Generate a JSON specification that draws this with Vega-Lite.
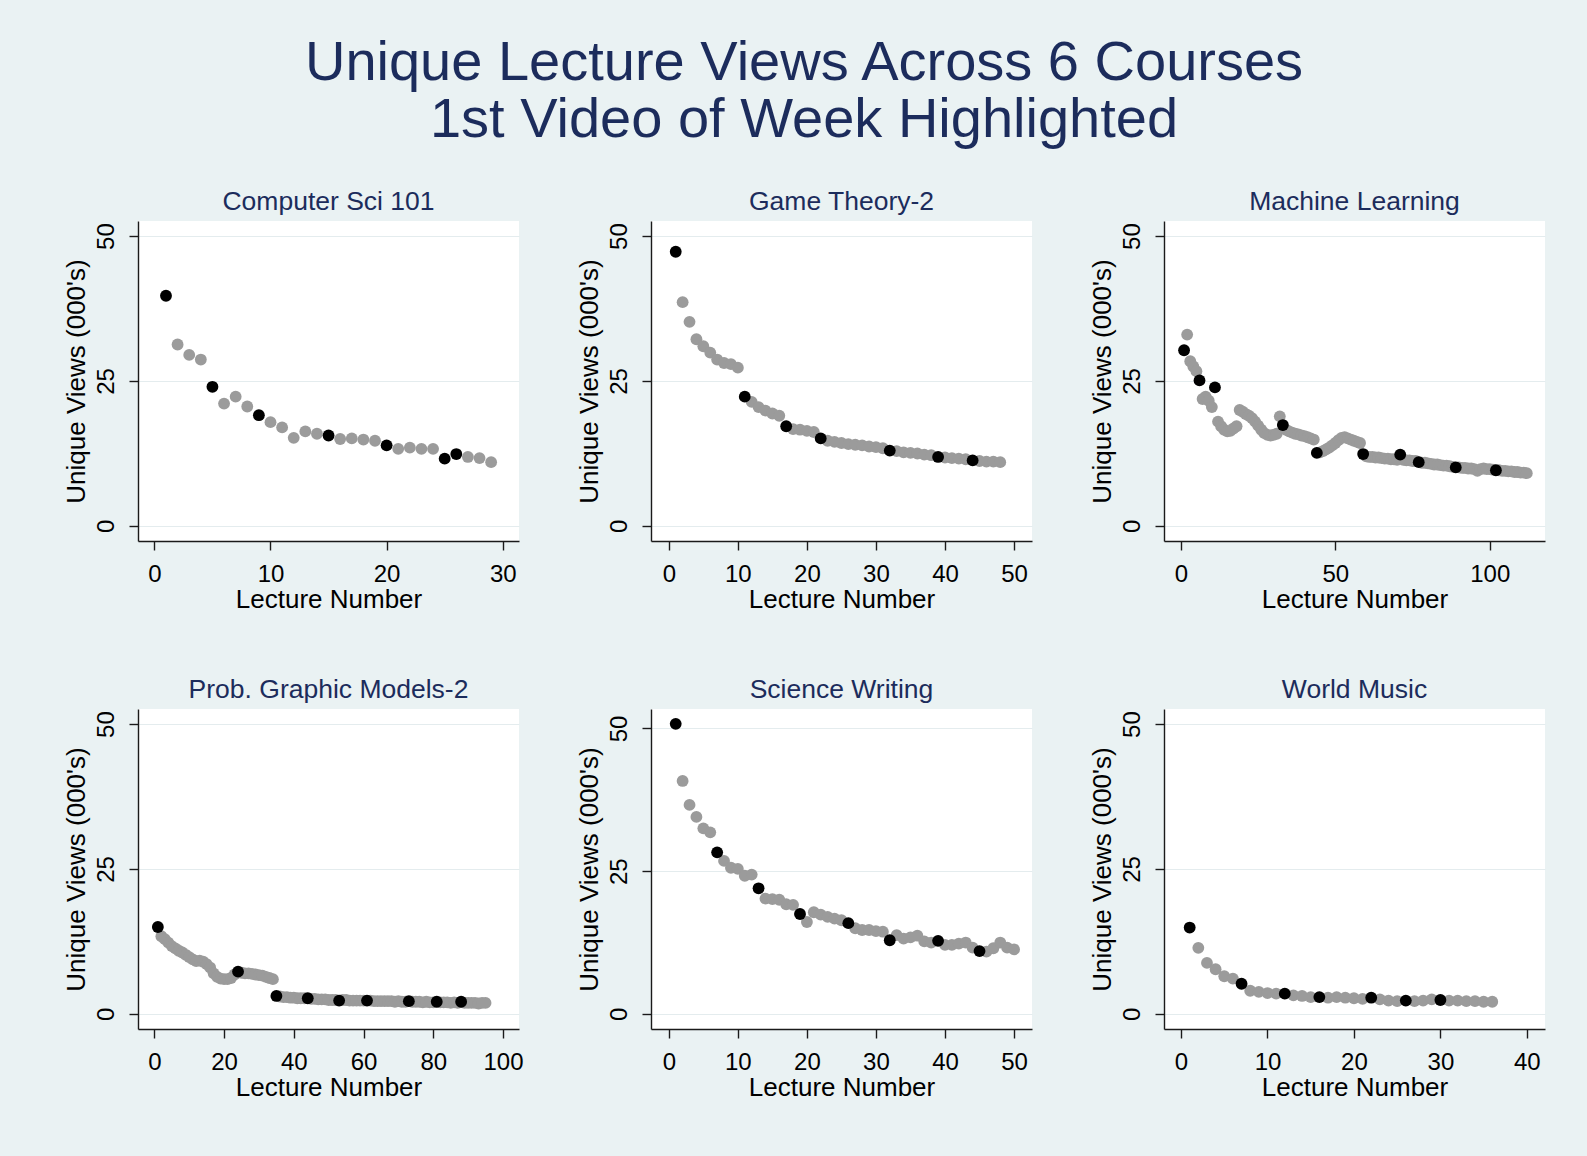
{
  "$schema": "https://vega.github.io/schema/vega-lite/v6.json",
  "background": "#EAF2F3",
  "padding": {"left": 63, "top": 34, "right": 49, "bottom": 59},
  "title": {
    "text": ["Unique Lecture Views Across 6 Courses", "1st Video of Week Highlighted"],
    "fontSize": 56, "font": "Liberation Sans", "fontWeight": "normal", "color": "#1C2C5C",
    "lineHeight": 57, "anchor": "middle", "offset": 40
  },
  "datasets": {
    "cs": [
      {"lecture":1,"views":39.7,"first":"Yes"},{"lecture":2,"views":31.3,"first":"No"},{"lecture":3,"views":29.5,"first":"No"},{"lecture":4,"views":28.7,"first":"No"},{"lecture":5,"views":24.0,"first":"Yes"},{"lecture":6,"views":21.1,"first":"No"},{"lecture":7,"views":22.3,"first":"No"},{"lecture":8,"views":20.6,"first":"No"},{"lecture":9,"views":19.1,"first":"Yes"},{"lecture":10,"views":17.9,"first":"No"},{"lecture":11,"views":17.0,"first":"No"},{"lecture":12,"views":15.2,"first":"No"},{"lecture":13,"views":16.3,"first":"No"},{"lecture":14,"views":15.9,"first":"No"},{"lecture":15,"views":15.6,"first":"Yes"},{"lecture":16,"views":15.0,"first":"No"},{"lecture":17,"views":15.1,"first":"No"},{"lecture":18,"views":14.9,"first":"No"},{"lecture":19,"views":14.7,"first":"No"},{"lecture":20,"views":13.9,"first":"Yes"},{"lecture":21,"views":13.3,"first":"No"},{"lecture":22,"views":13.5,"first":"No"},{"lecture":23,"views":13.3,"first":"No"},{"lecture":24,"views":13.3,"first":"No"},{"lecture":25,"views":11.6,"first":"Yes"},{"lecture":26,"views":12.4,"first":"Yes"},{"lecture":27,"views":11.9,"first":"No"},{"lecture":28,"views":11.7,"first":"No"},{"lecture":29,"views":11.0,"first":"No"}
    ],
    "gt": [
      {"lecture":1,"views":47.3,"first":"Yes"},{"lecture":2,"views":38.6,"first":"No"},{"lecture":3,"views":35.2,"first":"No"},{"lecture":4,"views":32.2,"first":"No"},{"lecture":5,"views":31.0,"first":"No"},{"lecture":6,"views":29.9,"first":"No"},{"lecture":7,"views":28.7,"first":"No"},{"lecture":8,"views":28.1,"first":"No"},{"lecture":9,"views":27.9,"first":"No"},{"lecture":10,"views":27.3,"first":"No"},{"lecture":11,"views":22.3,"first":"Yes"},{"lecture":12,"views":21.4,"first":"No"},{"lecture":13,"views":20.5,"first":"No"},{"lecture":14,"views":19.9,"first":"No"},{"lecture":15,"views":19.4,"first":"No"},{"lecture":16,"views":19.0,"first":"No"},{"lecture":17,"views":17.2,"first":"Yes"},{"lecture":18,"views":16.7,"first":"No"},{"lecture":19,"views":16.6,"first":"No"},{"lecture":20,"views":16.4,"first":"No"},{"lecture":21,"views":16.2,"first":"No"},{"lecture":22,"views":15.1,"first":"Yes"},{"lecture":23,"views":14.7,"first":"No"},{"lecture":24,"views":14.5,"first":"No"},{"lecture":25,"views":14.3,"first":"No"},{"lecture":26,"views":14.1,"first":"No"},{"lecture":27,"views":14.0,"first":"No"},{"lecture":28,"views":13.9,"first":"No"},{"lecture":29,"views":13.7,"first":"No"},{"lecture":30,"views":13.6,"first":"No"},{"lecture":31,"views":13.4,"first":"No"},{"lecture":32,"views":13.0,"first":"Yes"},{"lecture":33,"views":12.9,"first":"No"},{"lecture":34,"views":12.7,"first":"No"},{"lecture":35,"views":12.6,"first":"No"},{"lecture":36,"views":12.5,"first":"No"},{"lecture":37,"views":12.3,"first":"No"},{"lecture":38,"views":12.2,"first":"No"},{"lecture":39,"views":11.9,"first":"Yes"},{"lecture":40,"views":11.8,"first":"No"},{"lecture":41,"views":11.7,"first":"No"},{"lecture":42,"views":11.6,"first":"No"},{"lecture":43,"views":11.5,"first":"No"},{"lecture":44,"views":11.3,"first":"Yes"},{"lecture":45,"views":11.2,"first":"No"},{"lecture":46,"views":11.1,"first":"No"},{"lecture":47,"views":11.1,"first":"No"},{"lecture":48,"views":11.0,"first":"No"}
    ],
    "ml": [
      {"lecture":1,"views":30.3,"first":"Yes"},{"lecture":2,"views":33.0,"first":"No"},{"lecture":3,"views":28.4,"first":"No"},{"lecture":4,"views":27.5,"first":"No"},{"lecture":5,"views":26.7,"first":"No"},{"lecture":6,"views":25.1,"first":"Yes"},{"lecture":7,"views":21.9,"first":"No"},{"lecture":8,"views":22.3,"first":"No"},{"lecture":9,"views":21.6,"first":"No"},{"lecture":10,"views":20.5,"first":"No"},{"lecture":11,"views":23.9,"first":"Yes"},{"lecture":12,"views":18.0,"first":"No"},{"lecture":13,"views":17.2,"first":"No"},{"lecture":14,"views":16.6,"first":"No"},{"lecture":15,"views":16.3,"first":"No"},{"lecture":16,"views":16.4,"first":"No"},{"lecture":17,"views":16.8,"first":"No"},{"lecture":18,"views":17.2,"first":"No"},{"lecture":19,"views":20.0,"first":"No"},{"lecture":20,"views":19.7,"first":"No"},{"lecture":21,"views":19.3,"first":"No"},{"lecture":22,"views":19.0,"first":"No"},{"lecture":23,"views":18.6,"first":"No"},{"lecture":24,"views":18.0,"first":"No"},{"lecture":25,"views":17.3,"first":"No"},{"lecture":26,"views":16.6,"first":"No"},{"lecture":27,"views":16.0,"first":"No"},{"lecture":28,"views":15.7,"first":"No"},{"lecture":29,"views":15.6,"first":"No"},{"lecture":30,"views":15.7,"first":"No"},{"lecture":31,"views":15.9,"first":"No"},{"lecture":32,"views":18.9,"first":"No"},{"lecture":33,"views":17.4,"first":"Yes"},{"lecture":34,"views":16.6,"first":"No"},{"lecture":35,"views":16.3,"first":"No"},{"lecture":36,"views":16.1,"first":"No"},{"lecture":37,"views":15.9,"first":"No"},{"lecture":38,"views":15.8,"first":"No"},{"lecture":39,"views":15.6,"first":"No"},{"lecture":40,"views":15.5,"first":"No"},{"lecture":41,"views":15.3,"first":"No"},{"lecture":42,"views":15.1,"first":"No"},{"lecture":43,"views":14.9,"first":"No"},{"lecture":44,"views":12.6,"first":"Yes"},{"lecture":45,"views":12.7,"first":"No"},{"lecture":46,"views":12.9,"first":"No"},{"lecture":47,"views":13.2,"first":"No"},{"lecture":48,"views":13.5,"first":"No"},{"lecture":49,"views":13.9,"first":"No"},{"lecture":50,"views":14.3,"first":"No"},{"lecture":51,"views":14.8,"first":"No"},{"lecture":52,"views":15.2,"first":"No"},{"lecture":53,"views":15.3,"first":"No"},{"lecture":54,"views":15.1,"first":"No"},{"lecture":55,"views":14.9,"first":"No"},{"lecture":56,"views":14.7,"first":"No"},{"lecture":57,"views":14.5,"first":"No"},{"lecture":58,"views":14.3,"first":"No"},{"lecture":59,"views":12.4,"first":"Yes"},{"lecture":60,"views":12.0,"first":"No"},{"lecture":61,"views":11.9,"first":"No"},{"lecture":62,"views":11.9,"first":"No"},{"lecture":63,"views":11.8,"first":"No"},{"lecture":64,"views":11.8,"first":"No"},{"lecture":65,"views":11.7,"first":"No"},{"lecture":66,"views":11.6,"first":"No"},{"lecture":67,"views":11.6,"first":"No"},{"lecture":68,"views":11.5,"first":"No"},{"lecture":69,"views":11.5,"first":"No"},{"lecture":70,"views":11.4,"first":"No"},{"lecture":71,"views":12.3,"first":"Yes"},{"lecture":72,"views":11.4,"first":"No"},{"lecture":73,"views":11.3,"first":"No"},{"lecture":74,"views":11.3,"first":"No"},{"lecture":75,"views":11.2,"first":"No"},{"lecture":76,"views":11.2,"first":"No"},{"lecture":77,"views":11.0,"first":"Yes"},{"lecture":78,"views":10.9,"first":"No"},{"lecture":79,"views":10.9,"first":"No"},{"lecture":80,"views":10.8,"first":"No"},{"lecture":81,"views":10.7,"first":"No"},{"lecture":82,"views":10.6,"first":"No"},{"lecture":83,"views":10.6,"first":"No"},{"lecture":84,"views":10.5,"first":"No"},{"lecture":85,"views":10.4,"first":"No"},{"lecture":86,"views":10.4,"first":"No"},{"lecture":87,"views":10.3,"first":"No"},{"lecture":88,"views":10.2,"first":"No"},{"lecture":89,"views":10.1,"first":"Yes"},{"lecture":90,"views":10.1,"first":"No"},{"lecture":91,"views":10.0,"first":"No"},{"lecture":92,"views":10.0,"first":"No"},{"lecture":93,"views":9.9,"first":"No"},{"lecture":94,"views":9.9,"first":"No"},{"lecture":95,"views":9.8,"first":"No"},{"lecture":96,"views":9.5,"first":"No"},{"lecture":97,"views":9.8,"first":"No"},{"lecture":98,"views":9.9,"first":"No"},{"lecture":99,"views":9.8,"first":"No"},{"lecture":100,"views":9.8,"first":"No"},{"lecture":101,"views":9.7,"first":"No"},{"lecture":102,"views":9.6,"first":"Yes"},{"lecture":103,"views":9.6,"first":"No"},{"lecture":104,"views":9.5,"first":"No"},{"lecture":105,"views":9.5,"first":"No"},{"lecture":106,"views":9.4,"first":"No"},{"lecture":107,"views":9.4,"first":"No"},{"lecture":108,"views":9.3,"first":"No"},{"lecture":109,"views":9.3,"first":"No"},{"lecture":110,"views":9.2,"first":"No"},{"lecture":111,"views":9.2,"first":"No"},{"lecture":112,"views":9.1,"first":"No"}
    ],
    "pgm": [
      {"lecture":1,"views":15.0,"first":"Yes"},{"lecture":2,"views":13.4,"first":"No"},{"lecture":3,"views":12.9,"first":"No"},{"lecture":4,"views":12.3,"first":"No"},{"lecture":5,"views":11.7,"first":"No"},{"lecture":6,"views":11.3,"first":"No"},{"lecture":7,"views":10.9,"first":"No"},{"lecture":8,"views":10.6,"first":"No"},{"lecture":9,"views":10.2,"first":"No"},{"lecture":10,"views":9.8,"first":"No"},{"lecture":11,"views":9.4,"first":"No"},{"lecture":12,"views":9.1,"first":"No"},{"lecture":13,"views":9.2,"first":"No"},{"lecture":14,"views":9.0,"first":"No"},{"lecture":15,"views":8.6,"first":"No"},{"lecture":16,"views":8.0,"first":"No"},{"lecture":17,"views":7.0,"first":"No"},{"lecture":18,"views":6.4,"first":"No"},{"lecture":19,"views":6.1,"first":"No"},{"lecture":20,"views":6.0,"first":"No"},{"lecture":21,"views":6.0,"first":"No"},{"lecture":22,"views":6.2,"first":"No"},{"lecture":23,"views":6.8,"first":"No"},{"lecture":24,"views":7.3,"first":"Yes"},{"lecture":25,"views":7.1,"first":"No"},{"lecture":26,"views":7.0,"first":"No"},{"lecture":27,"views":7.0,"first":"No"},{"lecture":28,"views":6.9,"first":"No"},{"lecture":29,"views":6.8,"first":"No"},{"lecture":30,"views":6.7,"first":"No"},{"lecture":31,"views":6.6,"first":"No"},{"lecture":32,"views":6.4,"first":"No"},{"lecture":33,"views":6.2,"first":"No"},{"lecture":34,"views":6.0,"first":"No"},{"lecture":35,"views":3.1,"first":"Yes"},{"lecture":36,"views":3.0,"first":"No"},{"lecture":37,"views":2.9,"first":"No"},{"lecture":38,"views":2.9,"first":"No"},{"lecture":39,"views":2.8,"first":"No"},{"lecture":40,"views":2.8,"first":"No"},{"lecture":41,"views":2.7,"first":"No"},{"lecture":42,"views":2.7,"first":"No"},{"lecture":43,"views":2.7,"first":"No"},{"lecture":44,"views":2.7,"first":"Yes"},{"lecture":45,"views":2.6,"first":"No"},{"lecture":46,"views":2.6,"first":"No"},{"lecture":47,"views":2.5,"first":"No"},{"lecture":48,"views":2.5,"first":"No"},{"lecture":49,"views":2.5,"first":"No"},{"lecture":50,"views":2.4,"first":"No"},{"lecture":51,"views":2.4,"first":"No"},{"lecture":52,"views":2.4,"first":"No"},{"lecture":53,"views":2.3,"first":"Yes"},{"lecture":54,"views":2.4,"first":"No"},{"lecture":55,"views":2.4,"first":"No"},{"lecture":56,"views":2.3,"first":"No"},{"lecture":57,"views":2.3,"first":"No"},{"lecture":58,"views":2.3,"first":"No"},{"lecture":59,"views":2.3,"first":"No"},{"lecture":60,"views":2.3,"first":"No"},{"lecture":61,"views":2.3,"first":"Yes"},{"lecture":62,"views":2.3,"first":"No"},{"lecture":63,"views":2.2,"first":"No"},{"lecture":64,"views":2.2,"first":"No"},{"lecture":65,"views":2.2,"first":"No"},{"lecture":66,"views":2.2,"first":"No"},{"lecture":67,"views":2.2,"first":"No"},{"lecture":68,"views":2.2,"first":"No"},{"lecture":69,"views":2.1,"first":"No"},{"lecture":70,"views":2.2,"first":"No"},{"lecture":71,"views":2.1,"first":"No"},{"lecture":72,"views":2.1,"first":"No"},{"lecture":73,"views":2.2,"first":"Yes"},{"lecture":74,"views":2.1,"first":"No"},{"lecture":75,"views":2.1,"first":"No"},{"lecture":76,"views":2.1,"first":"No"},{"lecture":77,"views":2.0,"first":"No"},{"lecture":78,"views":2.1,"first":"No"},{"lecture":79,"views":2.0,"first":"No"},{"lecture":80,"views":2.0,"first":"No"},{"lecture":81,"views":2.1,"first":"Yes"},{"lecture":82,"views":2.0,"first":"No"},{"lecture":83,"views":2.0,"first":"No"},{"lecture":84,"views":2.0,"first":"No"},{"lecture":85,"views":1.9,"first":"No"},{"lecture":86,"views":2.0,"first":"No"},{"lecture":87,"views":1.9,"first":"No"},{"lecture":88,"views":2.1,"first":"Yes"},{"lecture":89,"views":1.9,"first":"No"},{"lecture":90,"views":1.9,"first":"No"},{"lecture":91,"views":1.9,"first":"No"},{"lecture":92,"views":1.9,"first":"No"},{"lecture":93,"views":1.8,"first":"No"},{"lecture":94,"views":1.9,"first":"No"},{"lecture":95,"views":1.9,"first":"No"}
    ],
    "sw": [
      {"lecture":1,"views":50.8,"first":"Yes"},{"lecture":2,"views":40.8,"first":"No"},{"lecture":3,"views":36.6,"first":"No"},{"lecture":4,"views":34.5,"first":"No"},{"lecture":5,"views":32.5,"first":"No"},{"lecture":6,"views":31.8,"first":"No"},{"lecture":7,"views":28.3,"first":"Yes"},{"lecture":8,"views":26.8,"first":"No"},{"lecture":9,"views":25.6,"first":"No"},{"lecture":10,"views":25.4,"first":"No"},{"lecture":11,"views":24.2,"first":"No"},{"lecture":12,"views":24.4,"first":"No"},{"lecture":13,"views":22.0,"first":"Yes"},{"lecture":14,"views":20.2,"first":"No"},{"lecture":15,"views":20.1,"first":"No"},{"lecture":16,"views":20.0,"first":"No"},{"lecture":17,"views":19.2,"first":"No"},{"lecture":18,"views":19.1,"first":"No"},{"lecture":19,"views":17.5,"first":"Yes"},{"lecture":20,"views":16.1,"first":"No"},{"lecture":21,"views":17.8,"first":"No"},{"lecture":22,"views":17.4,"first":"No"},{"lecture":23,"views":17.0,"first":"No"},{"lecture":24,"views":16.7,"first":"No"},{"lecture":25,"views":16.4,"first":"No"},{"lecture":26,"views":15.9,"first":"Yes"},{"lecture":27,"views":15.0,"first":"No"},{"lecture":28,"views":14.7,"first":"No"},{"lecture":29,"views":14.7,"first":"No"},{"lecture":30,"views":14.5,"first":"No"},{"lecture":31,"views":14.4,"first":"No"},{"lecture":32,"views":12.9,"first":"Yes"},{"lecture":33,"views":13.8,"first":"No"},{"lecture":34,"views":13.2,"first":"No"},{"lecture":35,"views":13.4,"first":"No"},{"lecture":36,"views":13.7,"first":"No"},{"lecture":37,"views":12.7,"first":"No"},{"lecture":38,"views":12.5,"first":"No"},{"lecture":39,"views":12.8,"first":"Yes"},{"lecture":40,"views":12.1,"first":"No"},{"lecture":41,"views":12.1,"first":"No"},{"lecture":42,"views":12.3,"first":"No"},{"lecture":43,"views":12.5,"first":"No"},{"lecture":44,"views":11.6,"first":"No"},{"lecture":45,"views":11.0,"first":"Yes"},{"lecture":46,"views":10.9,"first":"No"},{"lecture":47,"views":11.5,"first":"No"},{"lecture":48,"views":12.5,"first":"No"},{"lecture":49,"views":11.6,"first":"No"},{"lecture":50,"views":11.3,"first":"No"}
    ],
    "wm": [
      {"lecture":1,"views":14.9,"first":"Yes"},{"lecture":2,"views":11.4,"first":"No"},{"lecture":3,"views":8.8,"first":"No"},{"lecture":4,"views":7.7,"first":"No"},{"lecture":5,"views":6.5,"first":"No"},{"lecture":6,"views":6.1,"first":"No"},{"lecture":7,"views":5.2,"first":"Yes"},{"lecture":8,"views":4.0,"first":"No"},{"lecture":9,"views":3.8,"first":"No"},{"lecture":10,"views":3.6,"first":"No"},{"lecture":11,"views":3.5,"first":"No"},{"lecture":12,"views":3.5,"first":"Yes"},{"lecture":13,"views":3.2,"first":"No"},{"lecture":14,"views":3.1,"first":"No"},{"lecture":15,"views":2.9,"first":"No"},{"lecture":16,"views":2.9,"first":"Yes"},{"lecture":17,"views":2.8,"first":"No"},{"lecture":18,"views":2.9,"first":"No"},{"lecture":19,"views":2.8,"first":"No"},{"lecture":20,"views":2.7,"first":"No"},{"lecture":21,"views":2.6,"first":"No"},{"lecture":22,"views":2.8,"first":"Yes"},{"lecture":23,"views":2.5,"first":"No"},{"lecture":24,"views":2.3,"first":"No"},{"lecture":25,"views":2.2,"first":"No"},{"lecture":26,"views":2.3,"first":"Yes"},{"lecture":27,"views":2.2,"first":"No"},{"lecture":28,"views":2.3,"first":"No"},{"lecture":29,"views":2.5,"first":"No"},{"lecture":30,"views":2.4,"first":"Yes"},{"lecture":31,"views":2.3,"first":"No"},{"lecture":32,"views":2.3,"first":"No"},{"lecture":33,"views":2.2,"first":"No"},{"lecture":34,"views":2.2,"first":"No"},{"lecture":35,"views":2.1,"first":"No"},{"lecture":36,"views":2.1,"first":"No"}
    ]
  },
  "columns": 3,
  "spacing": {"row": 168, "column": 132},
  "bounds": "flush",
  "concat": [
    {
      "data": {"name": "cs"},
      "title": {"text": "Computer Sci 101"},
      "width": 381, "height": 320,
      "mark": {"type": "point", "filled": true, "size": 140, "opacity": 1},
      "encoding": {
        "x": {"field": "lecture", "type": "quantitative", "title": "Lecture Number", "scale": {"domain": [-1.41, 31.4], "nice": false, "zero": false}, "axis": {"values": [0, 10, 20, 30]}},
        "y": {"field": "views", "type": "quantitative", "title": "Unique Views (000's)", "scale": {"domain": [-2.6, 52.6], "nice": false, "zero": false}, "axis": {"values": [0, 25, 50]}},
        "color": {"field": "first", "type": "nominal", "scale": {"domain": ["No", "Yes"], "range": ["#9B9B9B", "#000000"]}, "legend": null},
        "order": {"field": "first"}
      }
    },
    {
      "data": {"name": "gt"},
      "title": {"text": "Game Theory-2"},
      "width": 381, "height": 320,
      "mark": {"type": "point", "filled": true, "size": 140, "opacity": 1},
      "encoding": {
        "x": {"field": "lecture", "type": "quantitative", "title": "Lecture Number", "scale": {"domain": [-2.58, 52.6], "nice": false, "zero": false}, "axis": {"values": [0, 10, 20, 30, 40, 50]}},
        "y": {"field": "views", "type": "quantitative", "title": "Unique Views (000's)", "scale": {"domain": [-2.6, 52.6], "nice": false, "zero": false}, "axis": {"values": [0, 25, 50]}},
        "color": {"field": "first", "type": "nominal", "scale": {"domain": ["No", "Yes"], "range": ["#9B9B9B", "#000000"]}, "legend": null},
        "order": {"field": "first"}
      }
    },
    {
      "data": {"name": "ml"},
      "title": {"text": "Machine Learning"},
      "width": 381, "height": 320,
      "mark": {"type": "point", "filled": true, "size": 140, "opacity": 1},
      "encoding": {
        "x": {"field": "lecture", "type": "quantitative", "title": "Lecture Number", "scale": {"domain": [-5.5, 117.9], "nice": false, "zero": false}, "axis": {"values": [0, 50, 100]}},
        "y": {"field": "views", "type": "quantitative", "title": "Unique Views (000's)", "scale": {"domain": [-2.6, 52.6], "nice": false, "zero": false}, "axis": {"values": [0, 25, 50]}},
        "color": {"field": "first", "type": "nominal", "scale": {"domain": ["No", "Yes"], "range": ["#9B9B9B", "#000000"]}, "legend": null},
        "order": {"field": "first"}
      }
    },
    {
      "data": {"name": "pgm"},
      "title": {"text": "Prob. Graphic Models-2"},
      "width": 381, "height": 320,
      "mark": {"type": "point", "filled": true, "size": 140, "opacity": 1},
      "encoding": {
        "x": {"field": "lecture", "type": "quantitative", "title": "Lecture Number", "scale": {"domain": [-4.7, 104.6], "nice": false, "zero": false}, "axis": {"values": [0, 20, 40, 60, 80, 100]}},
        "y": {"field": "views", "type": "quantitative", "title": "Unique Views (000's)", "scale": {"domain": [-2.6, 52.6], "nice": false, "zero": false}, "axis": {"values": [0, 25, 50]}},
        "color": {"field": "first", "type": "nominal", "scale": {"domain": ["No", "Yes"], "range": ["#9B9B9B", "#000000"]}, "legend": null},
        "order": {"field": "first"}
      }
    },
    {
      "data": {"name": "sw"},
      "title": {"text": "Science Writing"},
      "width": 381, "height": 320,
      "mark": {"type": "point", "filled": true, "size": 140, "opacity": 1},
      "encoding": {
        "x": {"field": "lecture", "type": "quantitative", "title": "Lecture Number", "scale": {"domain": [-2.58, 52.6], "nice": false, "zero": false}, "axis": {"values": [0, 10, 20, 30, 40, 50]}},
        "y": {"field": "views", "type": "quantitative", "title": "Unique Views (000's)", "scale": {"domain": [-2.64, 53.4], "nice": false, "zero": false}, "axis": {"values": [0, 25, 50]}},
        "color": {"field": "first", "type": "nominal", "scale": {"domain": ["No", "Yes"], "range": ["#9B9B9B", "#000000"]}, "legend": null},
        "order": {"field": "first"}
      }
    },
    {
      "data": {"name": "wm"},
      "title": {"text": "World Music"},
      "width": 381, "height": 320,
      "mark": {"type": "point", "filled": true, "size": 140, "opacity": 1},
      "encoding": {
        "x": {"field": "lecture", "type": "quantitative", "title": "Lecture Number", "scale": {"domain": [-1.97, 42.1], "nice": false, "zero": false}, "axis": {"values": [0, 10, 20, 30, 40]}},
        "y": {"field": "views", "type": "quantitative", "title": "Unique Views (000's)", "scale": {"domain": [-2.6, 52.6], "nice": false, "zero": false}, "axis": {"values": [0, 25, 50]}},
        "color": {"field": "first", "type": "nominal", "scale": {"domain": ["No", "Yes"], "range": ["#9B9B9B", "#000000"]}, "legend": null},
        "order": {"field": "first"}
      }
    }
  ],
  "resolve": {"scale": {"x": "independent", "y": "independent"}},
  "config": {
    "font": "Liberation Sans",
    "view": {"fill": "white", "stroke": null},
    "title": {"fontSize": 26.5, "fontWeight": "normal", "color": "#1C2C5C", "offset": 6, "font": "Liberation Sans"},
    "axis": {
      "domainColor": "#1A1A1A", "domainWidth": 1.4, "tickColor": "#1A1A1A", "tickWidth": 1.4, "tickSize": 9,
      "labelFontSize": 24, "titleFontSize": 26, "labelColor": "#000000", "titleColor": "#000000",
      "titleFontWeight": "normal", "labelFont": "Liberation Sans", "titleFont": "Liberation Sans", "labelFlush": false
    },
    "axisX": {"grid": false, "labelPadding": 12, "titlePadding": 0},
    "axisY": {"grid": true, "gridColor": "#E4ECEE", "gridWidth": 1, "labelAngle": 270, "labelPadding": 11, "titlePadding": 5}
  }
}
